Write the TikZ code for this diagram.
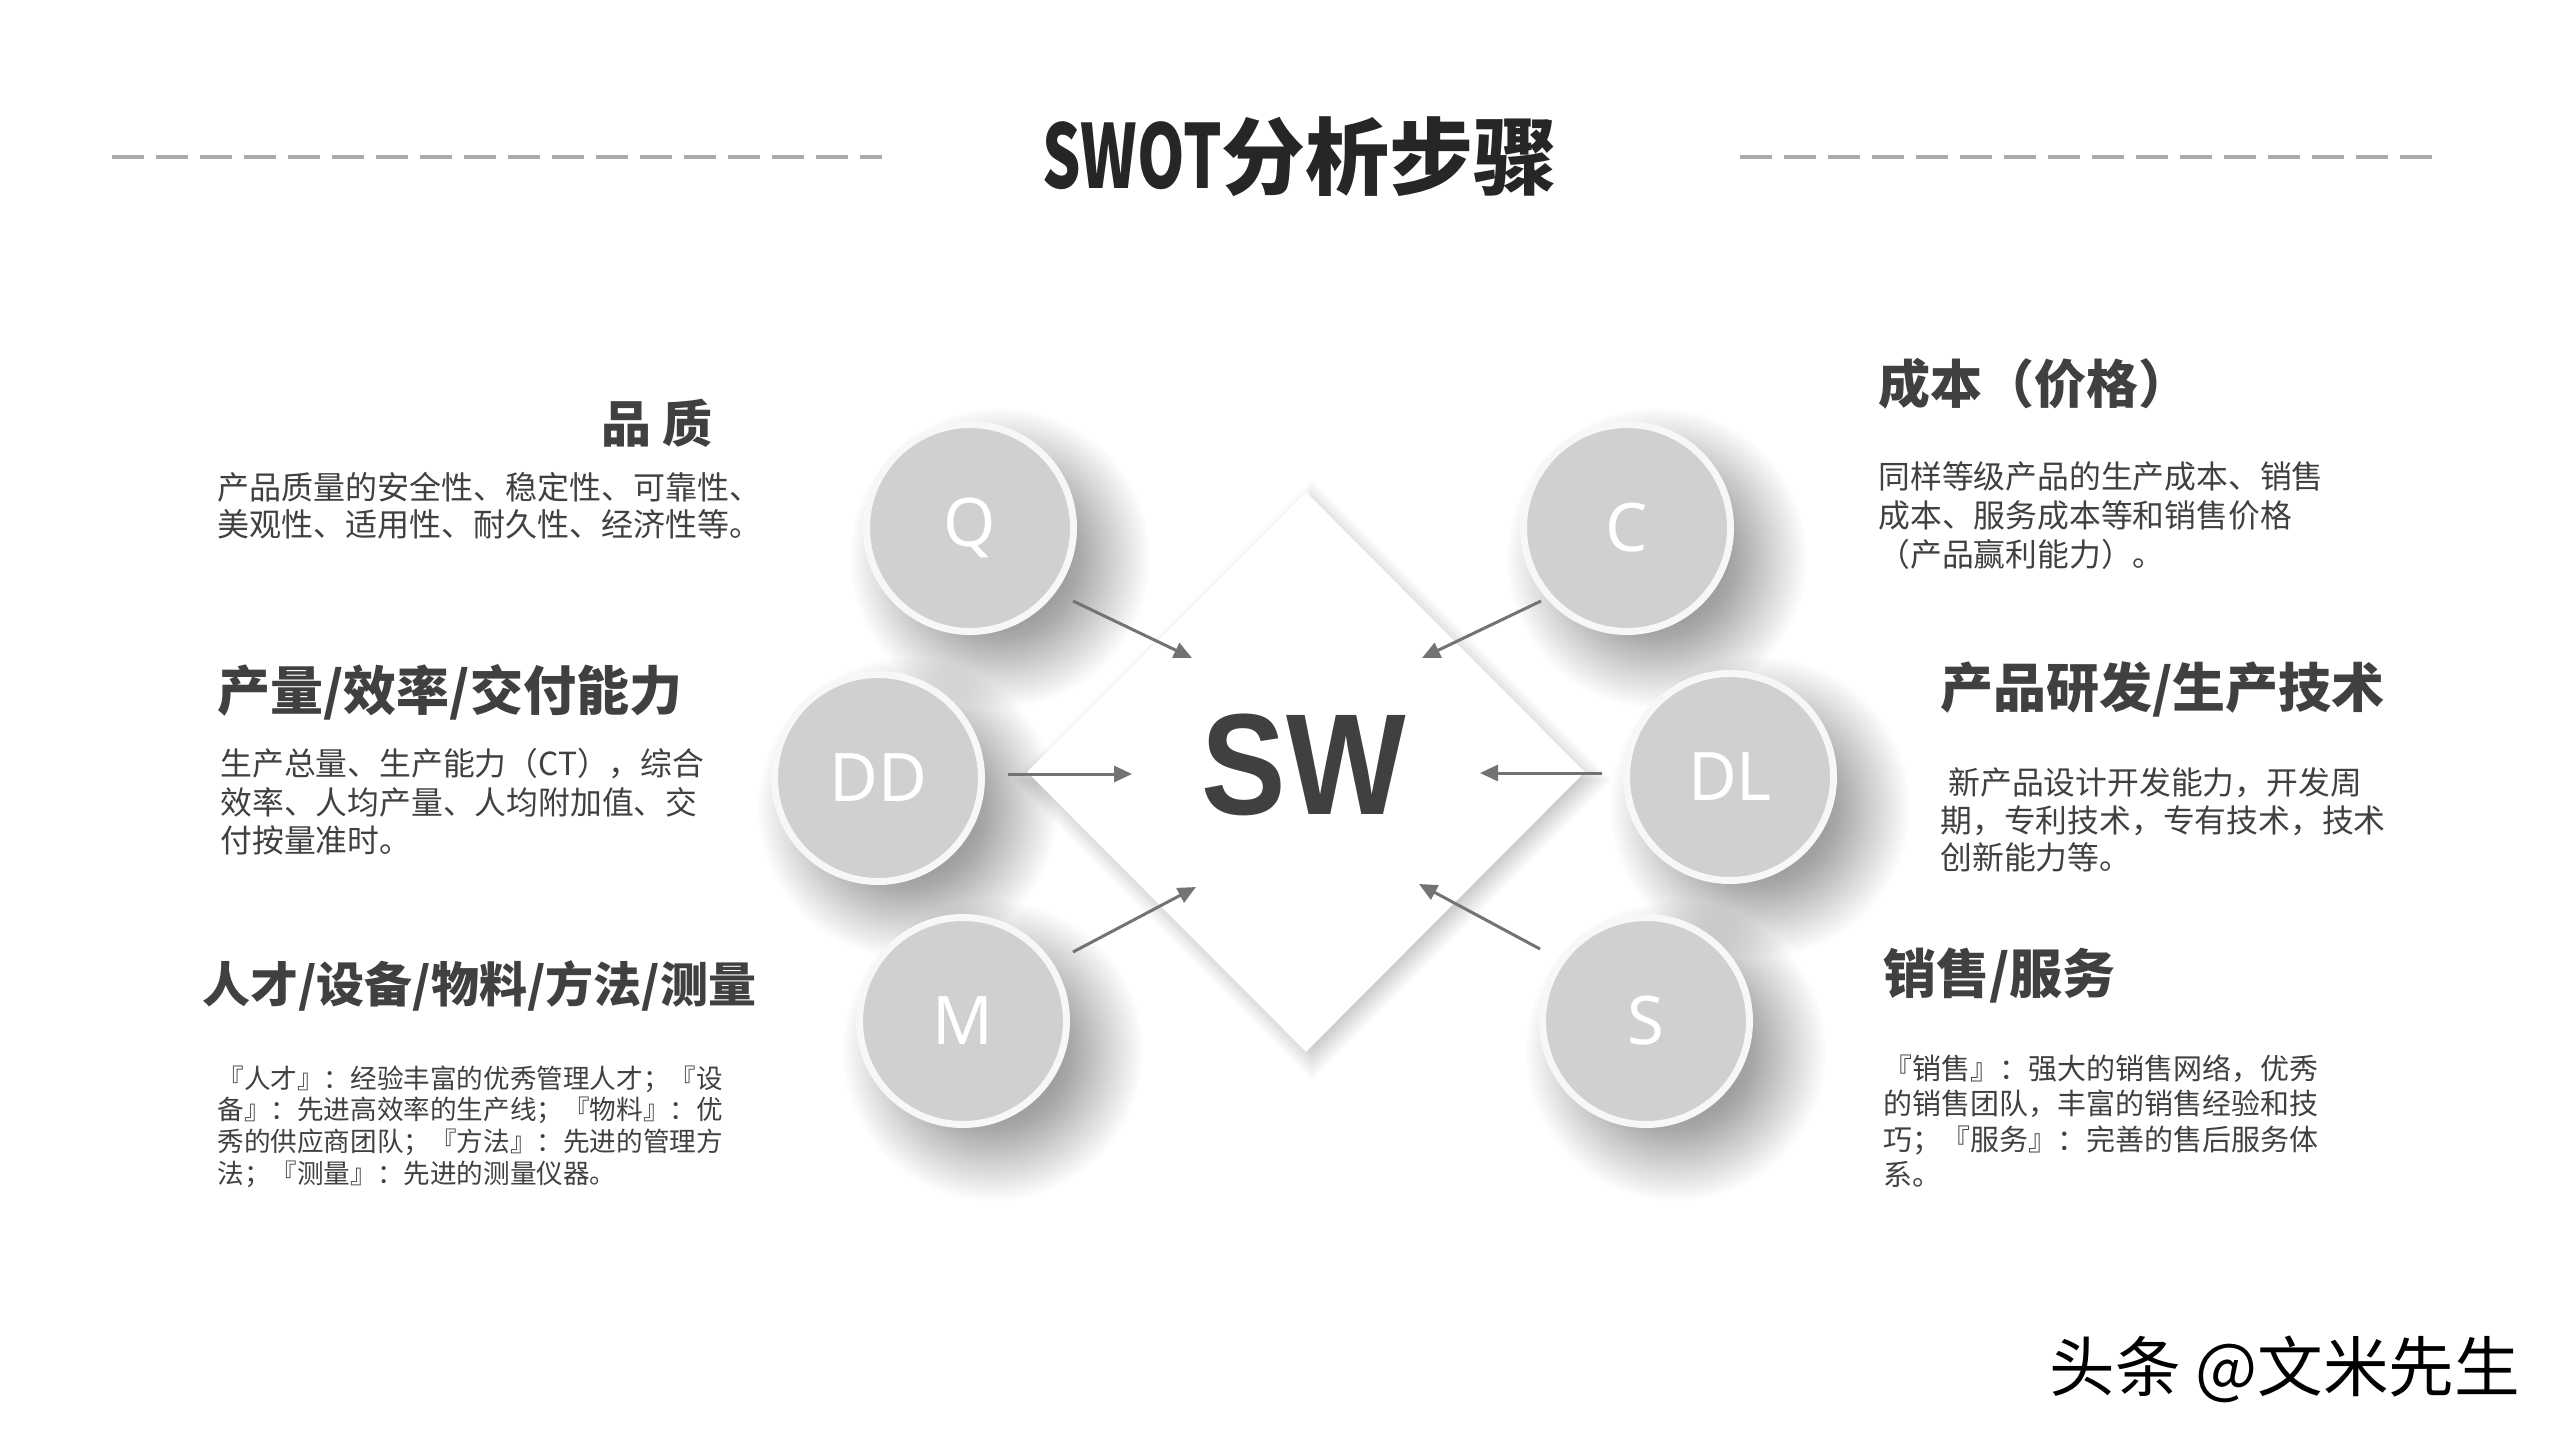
\documentclass[tikz,border=0pt]{standalone}
\usepackage{fontspec}
\usepackage{graphicx}
\setmainfont{Liberation Sans}
\newfontfamily\cjk{Noto Sans CJK SC}
\newfontfamily\latn{Noto Sans}
\usetikzlibrary{arrows.meta,shapes.geometric}
\definecolor{txt}{HTML}{404040}
\definecolor{ttl}{HTML}{262626}
\definecolor{cfill}{HTML}{D0D0D0}
\definecolor{cring}{HTML}{F7F7F7}
\definecolor{agray}{HTML}{737373}
\definecolor{dgray}{HTML}{AEAAAA}
\newcommand\fsz[2]{\fontsize{#1}{#2}\selectfont}
\begin{document}
\begin{tikzpicture}[x=0.5pt,y=-0.5pt,
  shadowlayer/.style={fill=black, opacity=0.0105},
  dshadowlayer/.style={fill=black, opacity=0.011},
  circ/.style={circle, minimum size=103.5pt, inner sep=0pt, fill=cfill, draw=cring, line width=3.5pt,
    text=white, font=\latn\fsz{33.5}{40}},
  arr/.style={draw=agray, line width=1.5pt, -{Triangle[length=9pt,width=8pt]}},
  head/.style={inner sep=0pt, text=txt, font=\cjk\bfseries},
  desc/.style={inner sep=0pt, text=txt, align=left, anchor=west},
  dline/.style={draw=dgray, line width=2pt, dash pattern=on 16pt off 6pt}
]
\useasboundingbox (0,0) rectangle (2560,1440);
\fill[white] (0,0) rectangle (2560,1440);

% title and dashed rules
\node[inner sep=0pt, text=ttl, font=\cjk\bfseries\fsz{42}{48}] (title) at (1300,157)
  {\scalebox{0.72}[1.05]{SWOT}分析步骤};
\coordinate (l1) at (112,157); \coordinate (l2) at (882,157);
\coordinate (r1) at (1740,157); \coordinate (r2) at (2433,157);
\draw[dline] (l1) -- (l2);
\draw[dline] (r1) -- (r2);

% soft circle shadows (stacked translucent discs)
\foreach \cx/\cy in {1000/558, 1657/558, 908/808, 1760/807, 993/1051, 1676/1051}{
  \foreach \r in {70,72.5,...,152}{
    \fill[shadowlayer] (\cx,\cy) circle (\r);
  }
}

% soft diamond shadow
\foreach \h in {268,270,...,300}{
  \fill[dshadowlayer] (1312,780-\h) -- (1312+\h,780) -- (1312,780+\h) -- (1312-\h,780) -- cycle;
}
% diamond
\node[diamond, minimum width=279pt, minimum height=280pt, inner sep=0pt, fill=white] (dia) at (1306,772) {};
\node[inner sep=0pt, text=txt, font=\bfseries\fsz{72}{80}] (SW) at (1304,765) {\scalebox{0.88}[1]{SW}};

% circles
\node[circ] (Q) at (970,528) {Q};
\node[circ] (C) at (1627,528) {C};
\node[circ] (DD) at (878,778) {DD};
\node[circ] (DL) at (1730,777) {DL};
\node[circ] (M) at (963,1021) {M};
\node[circ] (S) at (1646,1021) {S};

% arrows
\coordinate (qa) at (1073,601); \coordinate (qb) at (1192,658);
\coordinate (ca) at (1541,601); \coordinate (cb) at (1422,658);
\coordinate (da) at (1008,774); \coordinate (db) at (1132,774);
\coordinate (la) at (1602,773); \coordinate (lb) at (1480,773);
\coordinate (ma) at (1073,952); \coordinate (mb) at (1196,887);
\coordinate (sa) at (1540,949); \coordinate (sb) at (1419,884);
\draw[arr] (qa) -- (qb);
\draw[arr] (ca) -- (cb);
\draw[arr] (da) -- (db);
\draw[arr] (la) -- (lb);
\draw[arr] (ma) -- (mb);
\draw[arr] (sa) -- (sb);

% left texts
\node[head, anchor=east, font=\cjk\bfseries\fsz{25}{30}] (h1) at (713,423) {品 质};
\node[desc, font=\cjk\fsz{16}{18.75}] (d1) at (217,505.5)
  {产品质量的安全性、稳定性、可靠性、\\美观性、适用性、耐久性、经济性等。};
\node[head, anchor=west, font=\cjk\bfseries\fsz{26.5}{32}] (h2) at (217,692) {产量/效率/交付能力};
\node[desc, font=\cjk\fsz{15.9}{19.25}] (d2) at (220,802)
  {生产总量、生产能力（CT），综合\\效率、人均产量、人均附加值、交\\付按量准时。};
\node[head, anchor=west, font=\cjk\bfseries\fsz{24}{28}] (h3) at (202,986) {人才/设备/物料/方法/测量};
\node[desc, font=\cjk\fsz{13.3}{15.85}] (d3) at (217,1126.5)
  {『人才』：经验丰富的优秀管理人才；『设\\备』：先进高效率的生产线；『物料』：优\\秀的供应商团队；『方法』：先进的管理方\\法；『测量』：先进的测量仪器。};

% right texts
\node[head, anchor=west, font=\cjk\bfseries\fsz{26}{30}] (h4) at (1878,384) {成本（价格）};
\node[desc, font=\cjk\fsz{15.9}{19.5}] (d4) at (1878,516)
  {同样等级产品的生产成本、销售\\成本、服务成本等和销售价格\\（产品赢利能力）。};
\node[head, anchor=west, font=\cjk\bfseries\fsz{26.5}{30}] (h5) at (1940,689) {产品研发/生产技术};
\node[desc, font=\cjk\fsz{15.9}{18.75}] (d5) at (1940,820)
  {\hspace*{4pt}新产品设计开发能力，开发周\\期，专利技术，专有技术，技术\\创新能力等。};
\node[head, anchor=west, font=\cjk\bfseries\fsz{26.5}{30}] (h6) at (1883,976) {销售/服务};
\node[desc, font=\cjk\fsz{14.5}{17.65}] (d6) at (1883,1121)
  {『销售』：强大的销售网络，优秀\\的销售团队，丰富的销售经验和技\\巧；『服务』：完善的售后服务体\\系。};

% watermark
\node[inner sep=0pt, text=black, font=\cjk\fsz{32.8}{36}] (wm) at (2285,1369) {头条 @文米先生};
\end{tikzpicture}
\end{document}
